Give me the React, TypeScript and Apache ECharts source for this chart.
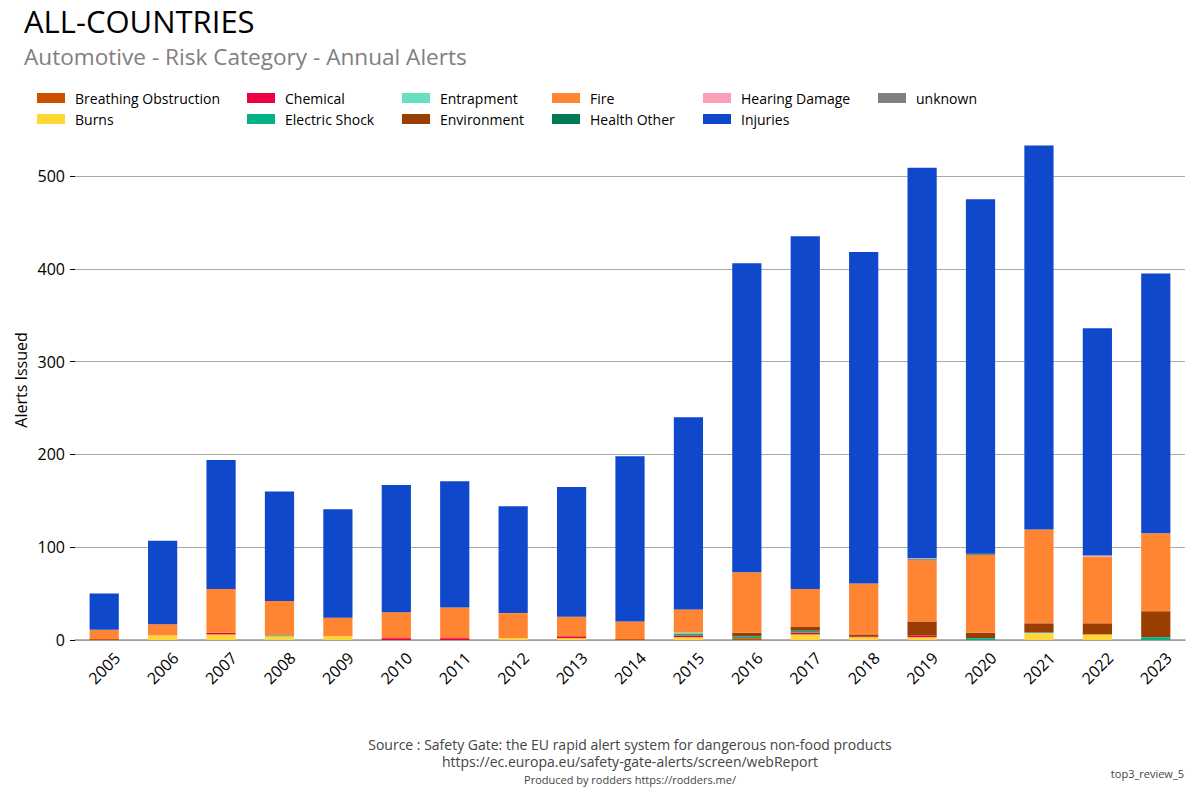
import React, { useEffect, useRef } from "react";
import * as echarts from "echarts";

const years = ["2005","2006","2007","2008","2009","2010","2011","2012","2013","2014","2015","2016","2017","2018","2019","2020","2021","2022","2023"];

const breathingObstruction = [1,0,0,0,0,0,0,0,0,1,0,2,0,0,0,0,0,0,0];
const burns =               [0,5,6,4,4,0,0,2,2,0,3,0,6,3,3,0,7,6,0];
const chemical =            [0,0,2,0,0,2,2,0,2,0,2,0,2,1,2,0,0,0,0];
const electricShock =       [0,0,0,1,0,0,0,0,0,0,2,2,2,0,0,2,0,0,3];
const entrapment =          [0,0,0,0,0,0,0,0,0,0,1,0,0,0,0,0,1,0,0];
const environment =         [0,0,0,0,0,0,0,0,0,0,0,4,4,2,15,6,10,12,28];
const fire =                [10,12,47,37,20,28,33,27,21,19,25,65,41,55,66,84,101,72,84];
const healthOther =         [0,0,0,0,0,0,0,0,0,0,0,0,0,0,1,1,0,0,0];
const hearingDamage =       [0,0,0,0,0,0,0,0,0,0,0,0,0,0,1,0,0,1,0];
const injuries =            [39,90,139,118,117,137,136,115,140,178,207,333,380,357,421,382,414,245,280];
const unknown =             [0,0,0,0,0,0,0,0,0,0,0,0,0,0,0,0,0,0,0];

const seriesNames = ["Breathing Obstruction","Burns","Chemical","Electric Shock","Entrapment","Environment","Fire","Health Other","Hearing Damage","Injuries","unknown"];
const seriesColors = ["#cc5000","#ffd633","#ee0044","#00b386","#66e0c0","#993d00","#ff8533","#007a55","#f9a0b8","#1048cc","#808080"];
const seriesData = [breathingObstruction,burns,chemical,electricShock,entrapment,environment,fire,healthOther,hearingDamage,injuries,unknown];

const legendColumns = [
  ["Breathing Obstruction","Burns"],
  ["Chemical","Electric Shock"],
  ["Entrapment","Environment"],
  ["Fire","Health Other"],
  ["Hearing Damage","Injuries"],
  ["unknown"],
];
const legendLefts = [37, 247, 402, 552, 703, 878];

const titleText = "ALL-COUNTRIES";
const subtitleText = "Automotive - Risk Category - Annual Alerts";
const yAxisName = "Alerts Issued";
const sourceLine = "Source : Safety Gate: the EU rapid alert system for dangerous non-food products";
const urlLine = "https://ec.europa.eu/safety-gate-alerts/screen/webReport";
const producedLine = "Produced by rodders https://rodders.me/";
const tagLine = "top3_review_5";

const FONT = "'Open Sans', 'Noto Sans', sans-serif";

export default function App() {
  const ref = useRef<HTMLDivElement>(null);
  useEffect(() => {
    if (!ref.current) return;
    const chart = echarts.init(ref.current, undefined, { renderer: "svg" });
    const option: any = {
      animation: false,
      backgroundColor: "#ffffff",
      textStyle: { fontFamily: FONT },
      legend: legendColumns.map((col, i) => ({
        data: col,
        orient: "vertical",
        left: legendLefts[i],
        top: 91,
        padding: 0,
        itemWidth: 28,
        itemHeight: 10,
        itemGap: 7,
        icon: "rect",
        selectedMode: false,
        textStyle: { fontFamily: FONT, fontSize: 14, color: "#000000", padding: [0, 0, 0, 5] },
      })),
      grid: { left: 75, right: 15, top: 176, bottom: 160, containLabel: false },
      xAxis: {
        type: "category",
        data: years,
        axisLine: { lineStyle: { color: "#999999", width: 1.5 } },
        axisTick: { alignWithLabel: true, length: 5, lineStyle: { color: "#000000" } },
        axisLabel: { rotate: 45, fontSize: 16, color: "#000000", fontFamily: FONT, margin: 28, align: "center", verticalAlign: "middle" },
      },
      yAxis: {
        type: "value",
        min: 0,
        max: 500,
        interval: 100,
        axisLine: { show: true, lineStyle: { color: "rgba(0,0,0,0)" } },
        axisTick: { show: true, length: 5, lineStyle: { color: "#000000" } },
        axisLabel: { fontSize: 16, color: "#000000", fontFamily: FONT, margin: 10 },
        splitLine: { lineStyle: { color: "#aaaaaa", width: 1 } },
      },
      series: seriesNames.map((name, i) => ({
        name,
        type: "bar",
        stack: "total",
        barWidth: "50%",
        clip: false,
        data: seriesData[i],
        itemStyle: { color: seriesColors[i] },
        emphasis: { disabled: true },
      })),
      graphic: [
        { type: "text", x: 24, y: 21, style: { text: titleText, fontSize: 31, fill: "#000000", fontFamily: FONT, align: "left", verticalAlign: "middle" } },
        { type: "text", x: 24, y: 56, style: { text: subtitleText, fontSize: 22.6, fill: "#808080", fontFamily: FONT, align: "left", verticalAlign: "middle" } },
        { type: "text", x: 21, y: 380, rotation: Math.PI / 2, style: { text: yAxisName, fontSize: 16, fill: "#000000", fontFamily: FONT, align: "center", verticalAlign: "middle" } },
        { type: "text", x: 630, y: 744, style: { text: sourceLine, fontSize: 14, fill: "#444444", fontFamily: FONT, align: "center", verticalAlign: "middle" } },
        { type: "text", x: 630, y: 761, style: { text: urlLine, fontSize: 14, fill: "#444444", fontFamily: FONT, align: "center", verticalAlign: "middle" } },
        { type: "text", x: 630, y: 779, style: { text: producedLine, fontSize: 11, fill: "#444444", fontFamily: FONT, align: "center", verticalAlign: "middle" } },
        { type: "text", x: 1184, y: 773, style: { text: tagLine, fontSize: 11, fill: "#444444", fontFamily: FONT, align: "right", verticalAlign: "middle" } },
      ],
    };
    chart.setOption(option);
    return () => chart.dispose();
  }, []);
  return <div ref={ref} style={{ position: "absolute", left: 0, top: 0, width: 1200, height: 800 }} />;
}
